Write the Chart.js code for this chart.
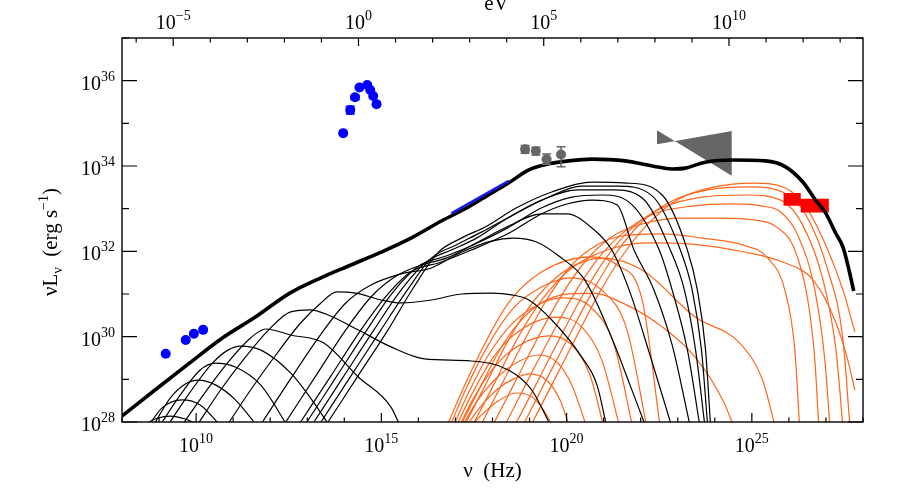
<!DOCTYPE html>
<html>
<head>
<meta charset="utf-8">
<script src="https://cdn.jsdelivr.net/npm/chart.js@4.4.1/dist/chart.umd.min.js"></script>
<style>
  html, body { margin: 0; padding: 0; background: #fff; }
  canvas { display: block; }
</style>
</head>
<body>
<canvas id="sed" width="900" height="500"></canvas>
<script>
// all values are log10: nu in Hz, nuL_nu in erg/s

// total model (thick black)
const totalNu = [8.00, 8.89, 9.82, 10.71, 11.60, 12.53, 13.37, 14.18, 14.99, 15.80, 16.62, 17.35, 17.89, 18.43, 18.98, 19.52, 20.06, 20.68, 21.58, 22.31, 22.85, 23.20, 23.74, 24.48, 25.37, 25.91, 26.37, 26.72, 26.99, 27.26, 27.46, 27.59, 27.75];
const totalL  = [28.14, 28.75, 29.38, 29.97, 30.46, 31.02, 31.38, 31.68, 31.98, 32.31, 32.71, 33.04, 33.32, 33.60, 33.91, 34.05, 34.12, 34.16, 34.12, 34.00, 33.93, 33.95, 34.09, 34.14, 34.12, 33.98, 33.63, 33.20, 32.90, 32.43, 32.10, 31.68, 31.07];

// synchrotron components (thin black)
const synNu = [
  [8.57, 8.89, 9.30, 9.71, 10.11],
  [8.68, 9.08, 9.63, 10.11, 10.71],
  [8.81, 9.30, 9.71, 10.06, 10.52, 11.06, 11.69],
  [8.98, 9.57, 10.11, 10.52, 11.06, 11.74, 12.50],
  [9.19, 9.84, 10.44, 10.87, 11.20, 11.74, 12.55, 13.09, 13.64],
  [9.57, 10.25, 10.87, 11.47, 11.88, 12.55, 13.45, 14.37, 15.26, 15.53],
  [9.98, 10.66, 11.33, 11.96, 12.55, 13.09, 13.64, 14.37, 15.26, 16.16, 17.43, 18.43, 19.06, 19.60],
  [10.79, 11.47, 12.15, 12.82, 13.37, 13.80, 14.31, 14.99, 15.53, 16.35, 17.16, 17.97, 18.52, 18.98, 19.60, 20.41, 20.82, 21.09],
  [11.79, 12.55, 13.37, 14.04, 14.72, 15.53, 16.35, 17.16, 17.97, 18.57, 19.19, 19.79, 20.49, 21.22, 21.71, 22.09],
  [12.42, 13.23, 14.04, 14.72, 15.40, 16.08, 16.75, 17.57, 18.38, 19.33, 20.01, 20.68, 21.22, 21.69, 22.25, 22.80],
  [12.82, 13.64, 14.45, 15.13, 15.80, 16.62, 17.43, 18.41, 19.33, 20.01, 20.68, 21.36, 21.82, 22.36, 22.85, 23.31],
  [12.99, 13.80, 14.61, 15.32, 16.02, 16.75, 17.43, 18.41, 19.33, 20.14, 20.95, 21.77, 22.50, 22.85, 23.26, 23.58],
  [13.18, 13.99, 14.80, 15.53, 16.21, 16.89, 17.57, 18.41, 19.33, 20.28, 21.22, 22.04, 22.80, 23.18, 23.48, 23.72],
  [13.37, 14.18, 14.99, 15.70, 16.35, 17.02, 17.70, 18.51, 19.46, 20.41, 21.36, 22.31, 23.07, 23.39, 23.64, 23.80],
  [13.56, 14.37, 15.18, 15.86, 16.54, 17.16, 17.84, 18.65, 19.60, 20.68, 21.63, 22.58, 23.26, 23.53, 23.75, 23.88]
];
const synL = [
  [27.91, 28.07, 28.14, 28.07, 27.91],
  [27.86, 28.33, 28.52, 28.40, 27.86],
  [27.86, 28.56, 28.89, 28.98, 28.87, 28.52, 27.86],
  [27.86, 28.63, 29.22, 29.38, 29.29, 28.87, 27.86],
  [27.86, 28.70, 29.38, 29.69, 29.78, 29.69, 29.15, 28.56, 27.86],
  [27.86, 28.70, 29.41, 29.97, 30.18, 30.04, 29.85, 29.06, 28.35, 27.86],
  [27.86, 28.75, 29.52, 30.16, 30.58, 30.63, 30.48, 30.16, 29.76, 29.48, 29.43, 29.22, 28.75, 27.86],
  [27.86, 28.75, 29.57, 30.32, 30.79, 31.05, 31.02, 30.86, 30.79, 30.86, 31.00, 31.02, 30.98, 30.86, 30.39, 29.52, 28.87, 27.86],
  [28.00, 29.01, 30.06, 30.79, 31.21, 31.47, 31.61, 31.98, 32.24, 32.31, 32.22, 31.89, 31.33, 29.97, 28.87, 28.00],
  [28.00, 29.08, 30.16, 30.93, 31.42, 31.68, 31.84, 32.20, 32.57, 32.88, 32.88, 32.55, 32.03, 31.09, 29.57, 28.00],
  [28.00, 29.08, 30.16, 30.95, 31.52, 31.75, 32.03, 32.41, 32.88, 33.11, 33.20, 33.09, 32.03, 31.09, 29.80, 28.00],
  [28.00, 29.08, 30.16, 31.05, 31.66, 31.89, 32.13, 32.55, 33.02, 33.27, 33.32, 33.09, 32.03, 31.09, 29.69, 28.00],
  [28.00, 29.08, 30.16, 31.09, 31.75, 32.03, 32.31, 32.78, 33.20, 33.44, 33.44, 33.25, 32.03, 31.09, 29.69, 28.00],
  [28.00, 29.08, 30.16, 31.09, 31.84, 32.15, 32.45, 32.83, 33.25, 33.53, 33.53, 33.30, 32.03, 31.09, 29.69, 28.00],
  [28.00, 29.08, 30.16, 31.14, 31.98, 32.31, 32.59, 33.02, 33.39, 33.62, 33.60, 33.32, 32.03, 31.09, 29.69, 28.00]
];

// inverse Compton components (thin orange)
const icNu = [
  [17.38, 17.70, 18.11, 18.65, 19.06, 19.38, 19.65],
  [17.27, 17.65, 18.11, 18.57, 19.00, 19.46, 19.82, 20.09],
  [17.16, 17.57, 18.11, 18.73, 19.27, 19.73, 20.14, 20.55],
  [17.08, 17.49, 18.03, 18.65, 19.52, 20.14, 20.63, 21.01],
  [17.00, 17.43, 17.97, 18.65, 19.73, 20.41, 20.95, 21.44],
  [16.92, 17.35, 17.89, 18.57, 19.33, 19.92, 20.68, 21.28, 21.79],
  [16.83, 17.27, 17.81, 18.52, 19.33, 20.14, 20.95, 21.63, 22.17],
  [16.75, 17.19, 17.73, 18.43, 19.33, 20.68, 21.36, 22.04, 22.53],
  [17.65, 18.24, 18.84, 19.46, 20.14, 20.82, 21.50, 22.58, 23.66, 24.75, 25.43, 25.89, 26.16, 26.29],
  [17.97, 18.57, 19.19, 19.82, 20.49, 21.22, 22.04, 23.12, 24.21, 25.02, 25.70, 26.16, 26.51, 26.70, 26.81],
  [18.30, 18.89, 19.52, 20.14, 20.82, 21.55, 22.36, 23.39, 24.48, 25.29, 25.78, 26.24, 26.70, 26.97, 27.11],
  [18.57, 19.17, 19.79, 20.41, 21.06, 21.77, 22.58, 23.66, 24.88, 25.78, 26.37, 26.92, 27.27, 27.46],
  [18.79, 19.38, 20.01, 20.63, 21.28, 21.98, 22.80, 23.80, 24.97, 25.83, 26.46, 27.05, 27.46, 27.65],
  [19.00, 19.60, 20.22, 20.85, 21.50, 22.17, 23.04, 23.99, 25.02, 25.89, 26.51, 27.05, 27.46, 27.78],
  [17.43, 18.03, 18.65, 19.33, 20.14, 21.09, 22.17, 23.39, 24.75, 25.83, 26.65, 27.24, 27.59, 27.78],
  [17.21, 17.81, 18.43, 19.14, 19.92, 20.95, 22.04, 23.47, 24.67, 25.29, 25.64],
  [17.11, 17.70, 18.33, 19.06, 19.87, 20.68, 21.63, 22.58, 23.47, 24.21, 24.53]
];
const icL = [
  [27.86, 28.16, 28.47, 28.68, 28.59, 28.28, 27.86],
  [27.86, 28.33, 28.75, 29.01, 29.13, 28.98, 28.52, 27.86],
  [27.86, 28.47, 29.03, 29.43, 29.57, 29.41, 28.87, 27.86],
  [27.86, 28.56, 29.27, 29.76, 30.02, 29.81, 29.10, 27.86],
  [27.86, 28.63, 29.45, 30.09, 30.46, 30.23, 29.45, 27.86],
  [27.86, 28.68, 29.57, 30.34, 30.79, 30.91, 30.67, 29.81, 27.86],
  [27.86, 28.75, 29.69, 30.63, 31.17, 31.38, 31.09, 30.16, 27.86],
  [27.86, 28.75, 29.73, 30.79, 31.52, 31.87, 31.68, 30.86, 27.86],
  [27.86, 28.87, 29.88, 30.86, 31.68, 32.15, 32.36, 32.41, 32.31, 32.15, 31.84, 31.09, 29.69, 27.86],
  [27.86, 28.87, 29.92, 30.91, 31.75, 32.34, 32.64, 32.78, 32.78, 32.74, 32.55, 32.03, 30.86, 29.45, 27.86],
  [27.86, 28.87, 29.92, 30.91, 31.80, 32.45, 32.88, 33.06, 33.11, 33.06, 32.92, 32.38, 31.09, 29.45, 27.86],
  [27.86, 28.87, 29.92, 30.93, 31.84, 32.55, 33.02, 33.27, 33.32, 33.20, 32.62, 31.33, 29.69, 27.86],
  [27.86, 28.87, 29.92, 30.95, 31.89, 32.64, 33.16, 33.44, 33.51, 33.39, 32.85, 31.56, 29.92, 27.86],
  [27.86, 28.87, 29.92, 30.98, 31.89, 32.62, 33.23, 33.51, 33.60, 33.49, 32.97, 32.03, 31.09, 30.11],
  [27.86, 28.87, 29.92, 30.86, 31.61, 32.03, 32.20, 32.17, 31.99, 31.75, 31.33, 30.39, 29.45, 28.75],
  [27.86, 28.87, 29.92, 30.86, 31.52, 31.84, 31.56, 30.46, 29.85, 28.98, 27.86],
  [27.86, 28.87, 29.88, 30.63, 30.98, 31.02, 30.74, 30.23, 29.52, 28.52, 27.86]
];

// observations
const radioNu = [9.18, 9.72, 9.94, 10.19];
const radioL  = [29.60, 29.92, 30.07, 30.16];
const optNu   = [13.97, 14.16, 14.29, 14.41, 14.62, 14.70, 14.78, 14.87];
const optL    = [34.77, 35.31, 35.61, 35.84, 35.90, 35.78, 35.64, 35.45];
const optErr  = [0, 0.09, 0.05, 0, 0, 0, 0, 0];
const xrayNu  = [16.89, 18.44];
const xrayL   = [32.89, 33.65];
const hxNu    = [18.88, 19.17, 19.46, 19.85];
const hxL     = [34.39, 34.35, 34.16, 34.27];
const hxErrUp = [0.09, 0.09, 0.12, 0.18];
const hxErrDn = [0.09, 0.09, 0.12, 0.29];
// Fermi bow-tie: two crossing lines
const latNu    = [22.44, 24.46];
const latSteep = [34.84, 33.77];
const latFlat  = [34.51, 34.82];
// TeV band
const tevNu  = [25.85, 26.32, 26.32, 27.08];
const tevTop = [33.37, 33.37, 33.23, 33.23];
const tevBot = [33.07, 33.07, 32.91, 32.91];

// axis ranges and ticks
const nuMin = 8, nuMax = 28, lMin = 28, lMax = 37;
const nuLabels = [10, 15, 20, 25];
const lLabels = [28, 30, 32, 34, 36];
const evLabels = [-5, 0, 5, 10];
const logHzPerEv = 14.383;

const ORANGE = '#ff661a';
const SERIF = '"Liberation Serif", "DejaVu Serif", serif';

function pts(xs, ys) {
  return xs.map((x, i) => ({ x: x, y: ys[i] }));
}

const datasets = [];
function line(xs, ys, color, width, extra) {
  datasets.push(Object.assign({
    data: pts(xs, ys),
    showLine: true,
    borderColor: color,
    borderWidth: width,
    pointRadius: 0,
    cubicInterpolationMode: 'monotone',
    fill: false
  }, extra || {}));
}

// bottom layers first
line(latNu, latSteep, '#666666', 0, { cubicInterpolationMode: 'default', tension: 0 });
line(latNu, latFlat, '#666666', 0, { cubicInterpolationMode: 'default', tension: 0, fill: '-1', backgroundColor: '#666666' });

icNu.forEach((nu, i) => line(nu, icL[i], ORANGE, 1.2));
synNu.forEach((nu, i) => line(nu, synL[i], '#000000', 1.2));

line(tevNu, tevTop, '#ff0000', 0, { cubicInterpolationMode: 'default', tension: 0 });
line(tevNu, tevBot, '#ff0000', 0, { cubicInterpolationMode: 'default', tension: 0, fill: '-1', backgroundColor: '#ff0000' });

line(totalNu, totalL, '#000000', 3.6);
line(xrayNu, xrayL, '#1a1ae6', 2.6, { cubicInterpolationMode: 'default', tension: 0 });

function dots(xs, ys, color) {
  datasets.push({
    data: pts(xs, ys),
    showLine: false,
    pointRadius: 5,
    pointBackgroundColor: color,
    pointBorderWidth: 0,
    pointBorderColor: color
  });
}
dots(radioNu, radioL, '#0000ff');
dots(optNu, optL, '#0000ff');
dots(hxNu, hxL, '#666666');

// first in the list is drawn first
datasets.forEach((d, i) => { d.order = datasets.length - i; });

function rich(ctx, parts, x, y, align) {
  let w = 0;
  parts.forEach(p => {
    ctx.font = p.size + 'px ' + SERIF;
    p.w = ctx.measureText(p.t).width;
    w += p.w;
  });
  let cx = align === 'center' ? x - w / 2 : (align === 'right' ? x - w : x);
  parts.forEach(p => {
    ctx.font = p.size + 'px ' + SERIF;
    ctx.fillText(p.t, cx, y + (p.dy || 0));
    cx += p.w;
  });
}

function sup(n) {
  return String(n).replace('-', '\u2212');
}

const errorBars = {
  id: 'errorBars',
  afterDatasetsDraw(chart) {
    const { ctx, scales: { x, y } } = chart;
    ctx.save();
    ctx.lineWidth = 1.5;
    const bar = (nu, l, up, dn, color) => {
      const px = x.getPixelForValue(nu);
      const top = y.getPixelForValue(l + up);
      const bot = y.getPixelForValue(l - dn);
      ctx.strokeStyle = color;
      ctx.beginPath();
      ctx.moveTo(px, top); ctx.lineTo(px, bot);
      ctx.moveTo(px - 4.5, top); ctx.lineTo(px + 4.5, top);
      ctx.moveTo(px - 4.5, bot); ctx.lineTo(px + 4.5, bot);
      ctx.stroke();
    };
    optNu.forEach((nu, i) => { if (optErr[i] > 0) bar(nu, optL[i], optErr[i], optErr[i], '#0000ff'); });
    hxNu.forEach((nu, i) => bar(nu, hxL[i], hxErrUp[i], hxErrDn[i], '#666666'));
    ctx.restore();
  }
};

const frame = {
  id: 'frame',
  afterDraw(chart) {
    const { ctx, chartArea: a, scales: { x, y } } = chart;
    ctx.save();
    ctx.strokeStyle = '#000';
    ctx.fillStyle = '#000';
    ctx.lineWidth = 1.4;
    ctx.strokeRect(a.left, a.top, a.right - a.left, a.bottom - a.top);

    ctx.lineWidth = 1.2;
    ctx.beginPath();
    // bottom and top ticks, one per decade of nu / eV
    for (let n = nuMin; n <= nuMax; n++) {
      const px = x.getPixelForValue(n);
      const len = n % 5 === 0 ? 9 : 4.5;
      ctx.moveTo(px, a.bottom); ctx.lineTo(px, a.bottom - len);
    }
    for (let e = Math.ceil(nuMin - logHzPerEv); e <= nuMax - logHzPerEv; e++) {
      const px = x.getPixelForValue(e + logHzPerEv);
      const len = e % 5 === 0 ? 8 : 4.5;
      ctx.moveTo(px, a.top); ctx.lineTo(px, a.top + len);
    }
    for (let l = lMin; l <= lMax; l++) {
      const py = y.getPixelForValue(l);
      const len = l % 2 === 0 ? 15 : 7;
      ctx.moveTo(a.left, py); ctx.lineTo(a.left + len, py);
      ctx.moveTo(a.right, py); ctx.lineTo(a.right - len, py);
    }
    ctx.stroke();

    ctx.textBaseline = 'alphabetic';
    ctx.textAlign = 'left';
    nuLabels.forEach(n => {
      rich(ctx, [{ t: '10', size: 20 }, { t: sup(n), size: 14, dy: -9 }], x.getPixelForValue(n), a.bottom + 30, 'center');
    });
    evLabels.forEach(e => {
      rich(ctx, [{ t: '10', size: 20 }, { t: sup(e), size: 14, dy: -9 }], x.getPixelForValue(e + logHzPerEv), a.top - 9, 'center');
    });
    lLabels.forEach(l => {
      rich(ctx, [{ t: '10', size: 20 }, { t: sup(l), size: 14, dy: -9 }], a.left - 7, y.getPixelForValue(l) + 9, 'right');
    });

    // axis titles
    const midX = (a.left + a.right) / 2;
    rich(ctx, [{ t: '\u03bd', size: 21 }, { t: '  (Hz)', size: 21 }], midX, a.bottom + 55, 'center');
    rich(ctx, [{ t: 'eV', size: 21 }], midX + 4, 10, 'center');

    ctx.translate(57, (a.top + a.bottom) / 2 + 12);
    ctx.rotate(-Math.PI / 2);
    rich(ctx, [
      { t: '\u03bdL', size: 21 }, { t: '\u03bd', size: 14, dy: 5 },
      { t: '  (erg s', size: 21 }, { t: '\u22121', size: 14, dy: -9 }, { t: ')', size: 21 }
    ], 0, 0, 'center');
    ctx.restore();
  }
};

new Chart(document.getElementById('sed'), {
  type: 'scatter',
  data: { datasets: datasets },
  options: {
    responsive: false,
    animation: false,
    devicePixelRatio: 1,
    layout: { padding: { left: 122, right: 37, top: 38, bottom: 78 } },
    plugins: { legend: { display: false }, tooltip: { enabled: false } },
    scales: {
      x: { type: 'linear', min: nuMin, max: nuMax, display: false },
      y: { type: 'linear', min: lMin, max: lMax, display: false }
    }
  },
  plugins: [errorBars, frame]
});
</script>
</body>
</html>
